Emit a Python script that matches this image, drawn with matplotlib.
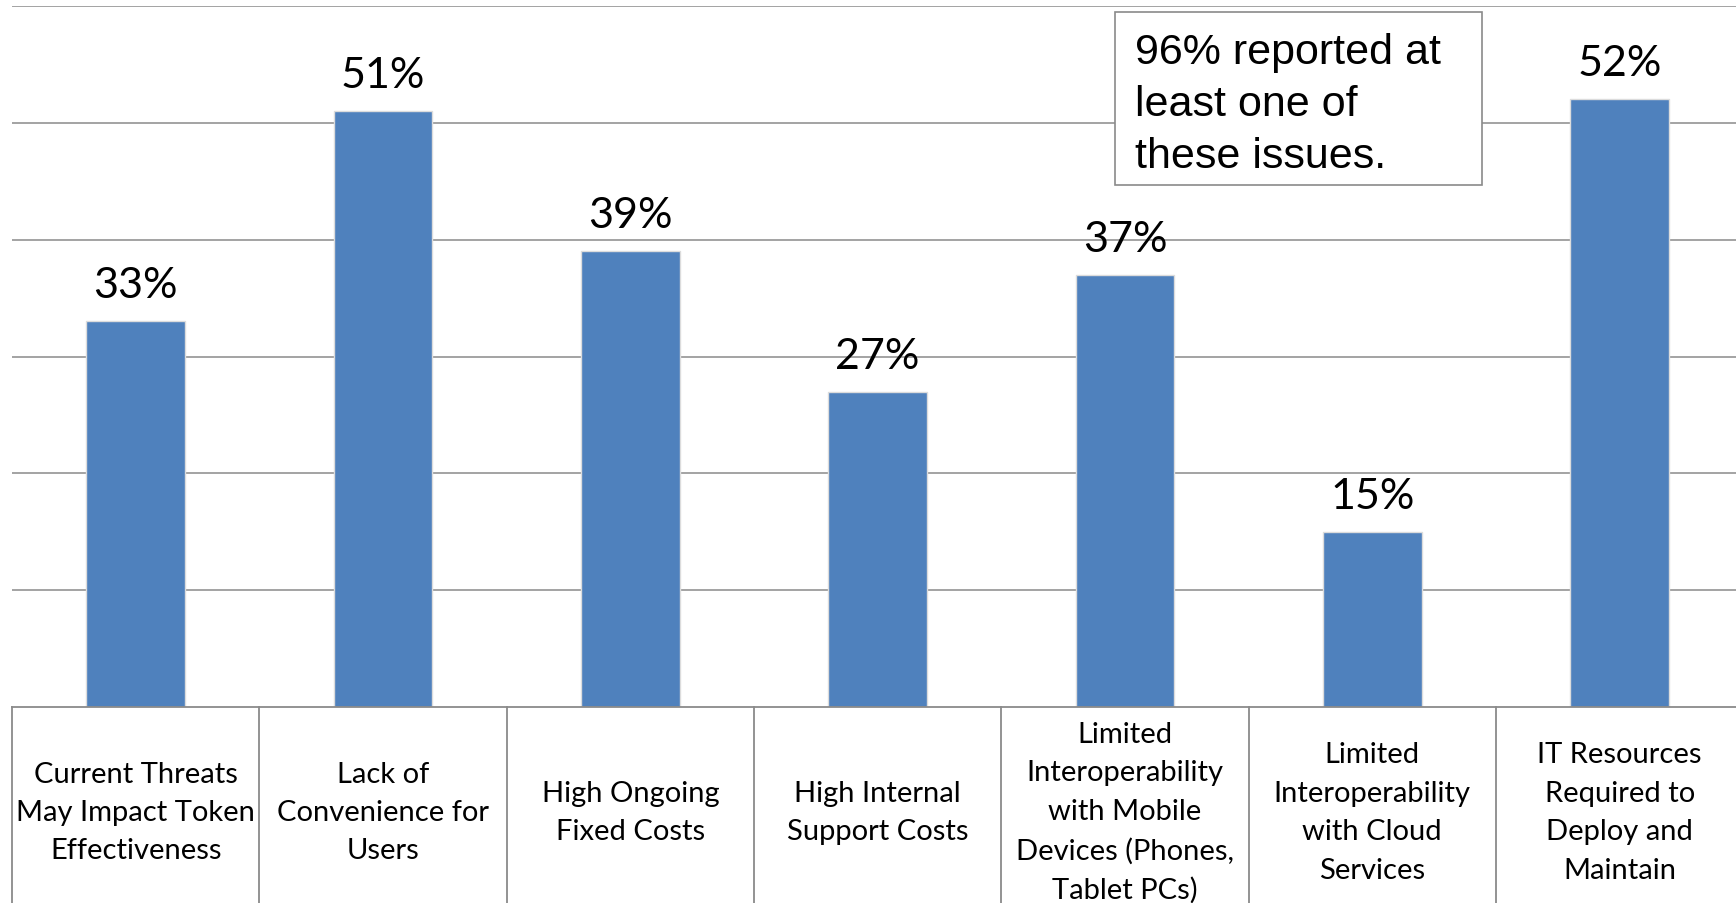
import matplotlib
matplotlib.use("Agg")
import matplotlib.pyplot as plt
from matplotlib.patches import Rectangle

# Survey results: reported issues with hardware tokens
categories = [
    "Current Threats\nMay Impact Token\nEffectiveness",
    "Lack of\nConvenience for\nUsers",
    "High Ongoing\nFixed Costs",
    "High Internal\nSupport Costs",
    "Limited\nInteroperability\nwith Mobile\nDevices (Phones,\nTablet PCs)",
    "Limited\nInteroperability\nwith Cloud\nServices",
    "IT Resources\nRequired to\nDeploy and\nMaintain",
]
values = [33, 51, 39, 27, 37, 15, 52]
value_labels = ["33%", "51%", "39%", "27%", "37%", "15%", "52%"]
gridline_values = [10, 20, 30, 40, 50, 60]
note_text = "96% reported at\nleast one of\nthese issues."

W, H = 1736, 904
DPI = 100
BAR_COLOR = "#4F81BD"
GRID_COLOR = "#8a8a8a"

fig = plt.figure(figsize=(W / DPI, H / DPI), dpi=DPI)
fig.patch.set_facecolor("white")

# plot area in pixel terms: left 12, baseline at 708 from top, top at 7
left_px, right_px = 12, 1743.3
top_px, base_px = 7, 708
ax = fig.add_axes([left_px / W, (H - base_px) / H,
                   (right_px - left_px) / W, (base_px - top_px) / H])
ax.set_xlim(-0.5, len(categories) - 0.5)
ax.set_ylim(0, 60)
ax.axis("off")

# horizontal gridlines
for g in gridline_values:
    ax.axhline(g, color=GRID_COLOR, lw=1.1, zorder=1)

x = list(range(len(categories)))
ax.bar(x, values, width=0.4, color=BAR_COLOR, edgecolor="#dcdcdc",
       linewidth=1.0, zorder=3)

for xi, v, lab in zip(x, values, value_labels):
    ax.annotate(lab, (xi, v), xytext=(0, 17), textcoords="offset pixels",
                ha="center", va="bottom", fontsize=31, family="Lato",
                color="black", zorder=4)

# category table below the baseline
ax.plot([-0.5, len(categories) - 0.5], [0, 0], color=GRID_COLOR, lw=1.3,
        zorder=4, clip_on=False)
for k in range(len(categories) + 1):
    ax.plot([k - 0.5, k - 0.5], [0, -30], color=GRID_COLOR, lw=1.3,
            clip_on=False, zorder=4)

label_center = -(813 - base_px) / (base_px - top_px)
for xi, cat in zip(x, categories):
    ax.text(xi, label_center, cat, transform=ax.get_xaxis_transform(),
            ha="center", va="center", fontsize=21, family="Lato",
            linespacing=1.59, color="black", clip_on=False)

# note box
bx0, bx1, by0, by1 = 1115, 1482, 13, 186
fig.patches.append(Rectangle((bx0 / W, 1 - by1 / H), (bx1 - bx0) / W,
                             (by1 - by0) / H, transform=fig.transFigure,
                             facecolor="white", edgecolor=GRID_COLOR,
                             lw=1.2, zorder=5))
fig.text(1135 / W, 1 - 105 / H, note_text, ha="left", va="center",
         fontsize=31, family="Liberation Sans", linespacing=1.39,
         color="black", zorder=6)

fig.savefig("out.png", dpi=DPI, facecolor="white")
